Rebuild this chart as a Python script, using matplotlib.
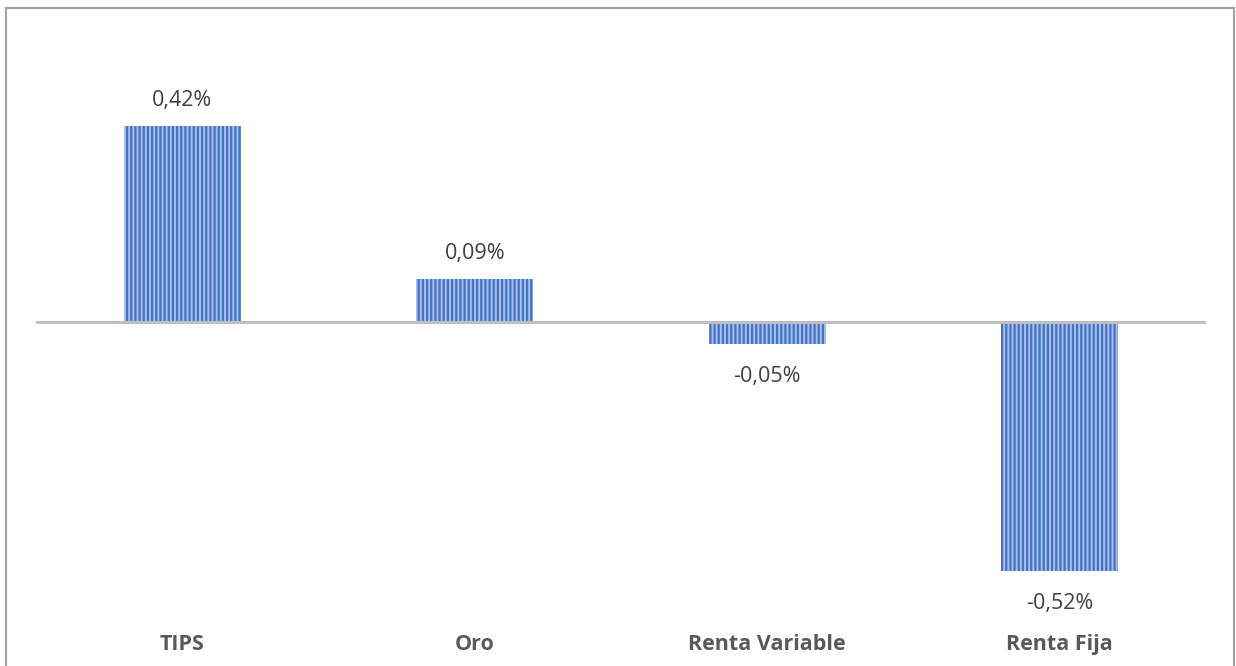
import matplotlib.pyplot as plt
from matplotlib.lines import Line2D

# datos
categorias = ['TIPS', 'Oro', 'Renta Variable', 'Renta Fija']
valores = [0.417, 0.0915, -0.047, -0.530]
etiquetas = ['0,42%', '0,09%', '-0,05%', '-0,52%']

plt.rcParams['hatch.linewidth'] = 1.6

W, H = 1236, 666
fig = plt.figure(figsize=(W / 100, H / 100), dpi=100)

# area del grafico en pixeles (izq, arriba, der, abajo)
l, t, r, b = 36, 30, 1206, 610
ax = fig.add_axes([l / W, 1 - b / H, (r - l) / W, (b - t) / H])
ymin, ymax = -(b - 322) / 470, (322 - t) / 470

ax.bar(range(len(categorias)), valores, width=0.4,
       color='#a9c1ea', edgecolor='#4472C4', linewidth=0,
       hatch='||||')

ax.set_xlim(-0.5, len(categorias) - 0.5)
ax.set_ylim(ymin, ymax)
ax.axhline(0, color='#BFBFBF', linewidth=2.2, zorder=3)

for i, v in enumerate(valores):
    off = 0.032 if v >= 0 else -0.046
    ax.text(i, v + off, etiquetas[i], ha='center',
            va='bottom' if v >= 0 else 'top',
            fontsize=15.5, color='#404040', family='Open Sans')
    ax.text(i, ymin - 0.074, categorias[i], ha='center', va='center',
            fontsize=15.5, color='#595959', fontweight='bold',
            family='Open Sans', clip_on=False)

ax.axis('off')

# marco del grafico
gris = '#A0A0A0'
fig.add_artist(Line2D([6 / W, 6 / W], [0, 1 - 8 / H], color=gris, lw=1.5))
fig.add_artist(Line2D([6 / W, 1234 / W], [1 - 8 / H, 1 - 8 / H], color=gris, lw=1.5))
fig.add_artist(Line2D([1234 / W, 1234 / W], [0, 1 - 8 / H], color=gris, lw=1.5))

fig.savefig('out.png', dpi=100)
